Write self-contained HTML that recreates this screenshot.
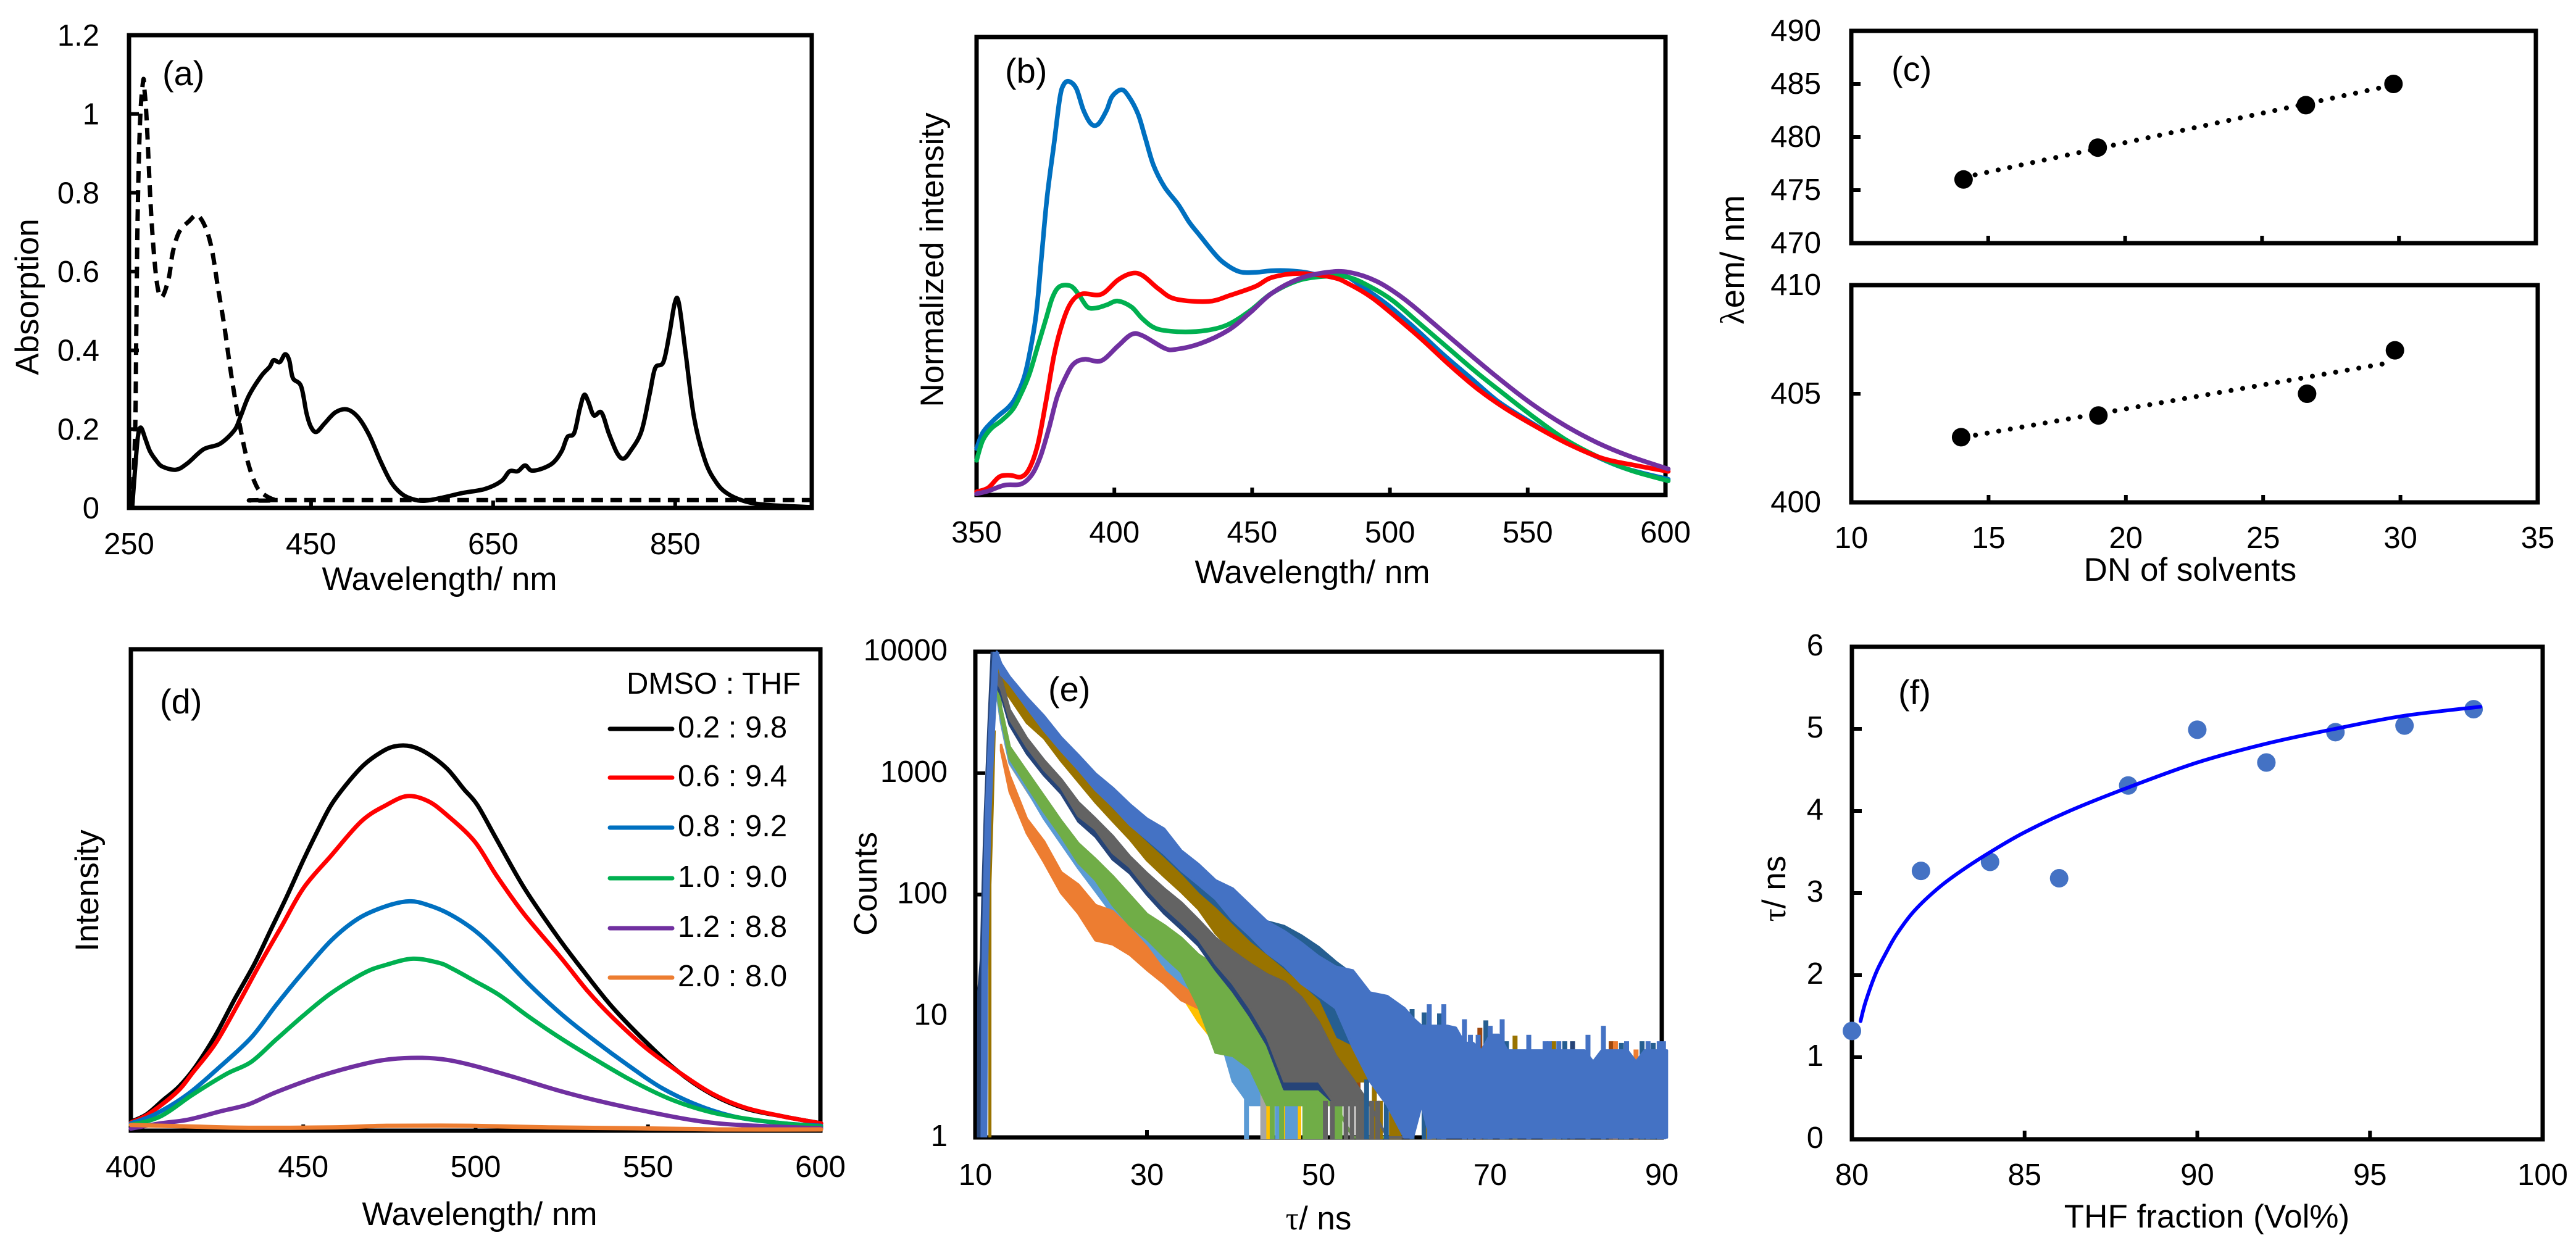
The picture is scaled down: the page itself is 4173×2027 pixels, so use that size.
<!DOCTYPE html>
<html lang="en">
<head>
<meta charset="utf-8">
<title>Spectra and lifetime panels</title>
<style>
  html, body { margin: 0; padding: 0; background: #fff; }
  svg { display: block; }
  text { font-family: "Liberation Sans", sans-serif; fill: #000; }
  .tick { font-size: 49px; }
  .title { font-size: 53px; }
  .panel-tag { font-size: 56px; }
  .sym { font-family: "Liberation Serif", serif; }
</style>
</head>
<body>
<svg id="figure" xmlns="http://www.w3.org/2000/svg" width="4173" height="2027" viewBox="0 0 4173 2027">
  <rect x="0" y="0" width="4173" height="2027" fill="#fff"/>
  <g id="panel-a"></g>
  <g id="panel-b"></g>
  <g id="panel-c-top"></g>
  <g id="panel-c-bottom"></g>
  <g id="panel-d"></g>
  <g id="panel-e"></g>
  <g id="panel-f"></g>

  <g>
    <text class="title" x="712" y="956" text-anchor="middle">Wavelength/ nm</text>
    <text class="title" transform="translate(62 481) rotate(-90)" text-anchor="middle">Absorption</text>
    <text class="title" x="2126" y="945" text-anchor="middle">Wavelength/ nm</text>
    <text class="title" transform="translate(1528 421) rotate(-90)" text-anchor="middle">Normalized intensity</text>
    <text class="title" x="3548" y="941" text-anchor="middle">DN of solvents</text>
    <text class="title" style="font-size:55px" transform="translate(2825 421) rotate(-90)" text-anchor="middle"><tspan class="sym">λ</tspan>em/ nm</text>
    <text class="title" x="777" y="1985" text-anchor="middle">Wavelength/ nm</text>
    <text class="title" transform="translate(159 1443) rotate(-90)" text-anchor="middle">Intensity</text>
    <text class="title" x="2136" y="1992" text-anchor="middle"><tspan class="sym">τ</tspan>/ ns</text>
    <text class="title" transform="translate(1420 1432) rotate(-90)" text-anchor="middle">Counts</text>
    <text class="title" x="3575" y="1989" text-anchor="middle">THF fraction (Vol%)</text>
    <text class="title" transform="translate(2892 1440) rotate(-90)" text-anchor="middle"><tspan class="sym">τ</tspan>/ ns</text>
  </g>

  <g>
    <text class="panel-tag" x="263" y="138">(a)</text>
    <text class="panel-tag" x="1628" y="134">(b)</text>
    <text class="panel-tag" x="3064" y="131">(c)</text>
    <text class="panel-tag" x="259" y="1156">(d)</text>
    <text class="panel-tag" x="1698" y="1136">(e)</text>
    <text class="panel-tag" x="3075" y="1141">(f)</text>
  </g>
  <text class="tick" x="1015" y="1124">DMSO : THF</text>
  <g id="legend"></g>
</svg>

<script>
/* ---------- panel (a) ---------- */
const aXTicks = [250, 450, 650, 850];
const aYTicks = [0, 0.2, 0.4, 0.6, 0.8, 1, 1.2];
const aYLabels = ['0', '0.2', '0.4', '0.6', '0.8', '1', '1.2'];
const aSolidWl = [253.6,256.7,259.7,263,268,273,280,286.6,301.5,314,332,350,366,373,381.7,395,404.4,408.8,415.6,421.4,426,430,439,445,450,456,465,477,489.6,501.7,513.8,526,538,550,562,574,592,616.6,640.8,659,668,677,685,692,704,716,725.5,731.5,739,745,750,754.5,760.6,769,777,786,793,801,813,822,828,837,843.5,849.5,854,861.6,870.7,882.8,895,907,925,949,999.5];
const aSolidAbs = [.005,.10,.18,.204,.175,.144,.12,.105,.097,.113,.149,.163,.198,.235,.285,.334,.358,.375,.37,.39,.375,.33,.309,.24,.205,.193,.215,.243,.25,.23,.185,.12,.065,.035,.022,.018,.025,.038,.048,.068,.093,.093,.108,.095,.1,.115,.145,.18,.19,.25,.287,.27,.235,.242,.19,.14,.125,.145,.195,.29,.355,.37,.44,.52,.52,.39,.23,.12,.065,.037,.018,.008,.002];
const aDashWl = [253.6,256.8,258,259.5,262.2,265.6,267,269.4,274.4,280,285.7,293.6,298,305,316,325,334,341,347.8,354.6,361,367,372.7,379.5,387.4,395,411,429,999.5];
const aDashAbs = [0,.198,.45,.743,.985,1.085,1.06,.985,.743,.583,.535,.583,.648,.70,.728,.743,.712,.656,.558,.463,.358,.27,.198,.125,.069,.04,.02,.02,.02];

/* ---------- panel (b) ---------- */
const bXTicks = [350, 400, 450, 500, 550, 600];
const bBlueWl = [350,352.2,355.2,358.2,361.6,364.2,367.2,369.2,371.6,373.6,375.6,378.2,380.2,381.6,383.6,386.2,388.8,391.6,394.2,397.2,399.2,402.6,405.2,408.6,411.2,414.2,418.2,423.2,427.2,431.2,435.2,439.2,445.2,451.2,457.2,463.2,469.2,475.2,483.2,489.2,499.2,509.2,519.2,529.2,539.2,549.2,561.2,573.2,585.2,601];
const bBlueInt = [118,158,183,203,223,248,298,358,458,608,758,898,1008,1043,1051,1033,978,943,943,978,1013,1030,1013,968,908,838,783,738,693,658,623,593,568,566,570,570,566,558,558,533,483,423,358,298,238,193,143,103,68,40];
const bGreenWl = [350,352.2,355.2,359.2,363.2,366.2,369.2,372.2,375.2,377.6,380.2,384.2,387.2,390.2,393.2,397.2,401.2,406.2,410.2,415.2,423.2,433.2,441.2,449.2,457.2,467.2,477.2,485.2,493.2,501.2,511.2,521.2,531.2,540.2,551.2,563.2,575.2,587.2,601];
const bGreenInt = [88,138,168,190,218,258,308,378,448,503,530,531,508,478,475,483,493,478,448,423,415,418,433,468,513,546,556,553,528,493,433,373,313,263,203,143,98,63,36];
const bRedWl = [350,354.2,358.2,362.2,366.2,369.2,372.2,375.2,378.2,381.2,384.2,388.2,395.2,401.2,406.2,410.2,416.2,422.2,434.2,442.2,451.2,457.2,467.2,479.2,485.2,493.2,501.2,511.2,521.2,531.2,541.2,553.2,565.2,577.2,589.2,601];
const bRedInt = [8,18,46,50,46,68,128,238,358,438,488,511,510,546,563,558,523,498,492,508,530,553,563,553,536,503,458,398,333,273,223,173,128,93,75,60];
const bPurpleWl = [350,354.2,360.2,366.2,370.2,373.2,376.2,379.2,382.2,385.2,389.2,395.2,401.2,406.2,410.2,418.2,422.2,431.2,441.2,449.2,457.2,467.2,477.2,485.2,495.2,505.2,517.2,527.2,539.2,551.2,563.2,575.2,587.2,601];
const bPurpleInt = [3,10,25,28,53,98,168,248,298,333,345,341,378,408,405,373,370,385,418,463,513,550,566,566,543,498,428,368,298,233,178,133,98,66];

/* ---------- panel (c) ---------- */
const cXTicks = [10, 15, 20, 25, 30, 35];
const cTopYTicks = [470, 475, 480, 485, 490];
const cBottomYTicks = [400, 405, 410];
const cTopDn = [14.1, 19, 26.6, 29.8];
const cTopEm = [476, 479, 483, 485];
const cTopFitDn = [14.1, 29.8];
const cTopFitEm = [476.2, 484.9];
const cBottomDn = [14, 19, 26.6, 29.8];
const cBottomEm = [403, 404, 405, 407];
const cBottomFitDn = [14.1, 29.7];
const cBottomFitEm = [403, 406.45];

/* ---------- panel (d) ---------- */
const dXTicks = [400, 450, 500, 550, 600];
const dBlackWl = [400,404.5,409.3,414.1,418.9,424.5,430.1,435.7,440.5,445.3,450.1,454.1,458.1,462.9,467.7,472.5,476.5,481.3,486.1,491.7,496.5,500.5,506.1,514.1,523.7,531.7,539.7,549.3,558.9,568.5,578.1,589.3,600.2];
const dBlackInt = [22,40,75,110,160,235,325,410,495,580,670,740,805,860,905,935,950,950,932,895,845,805,720,600,480,390,305,220,145,90,55,35,18];
const dRedWl = [400,405.3,413.3,418.1,424.5,430.9,437.3,443.7,450.1,458.1,466.9,474.1,480.2,486.1,491.7,499.7,506.1,514.1,524.5,532.5,539.7,549.3,558.9,568.5,578.1,589.3,600.2];
const dRedInt = [20,42,95,145,215,310,410,505,600,680,765,805,827,815,780,715,630,535,430,345,280,205,145,92,57,35,18];
const dBlueWl = [400,406.9,416.5,426.1,434.9,442.1,449.3,458.1,466.1,474.1,480.8,486.1,492.5,499.7,506.1,515.7,525.3,534.9,544.5,554.1,565.3,576.5,589.3,600.2];
const dBlueInt = [18,40,90,160,230,310,385,470,525,555,567,558,535,495,445,360,285,220,160,105,60,32,18,12];
const dGreenWl = [400,408.5,418.1,427.7,434.9,442.1,450.1,458.1,467.7,474.1,481.8,489.3,493.3,499.7,506.9,515.7,525.3,534.9,546.1,557.3,568.5,579.7,589.3,600.2];
const dGreenInt = [14,35,90,140,170,225,285,340,390,410,425,415,400,370,335,280,225,175,120,75,45,28,18,10];
const dPurpleWl = [400,408.5,416.5,426.1,434.1,442.1,454.9,467.7,475.7,484.5,491.7,499.7,510.9,523.7,534.9,549.3,563.7,576.5,600.2];
const dPurpleInt = [5,18,27,48,65,95,135,165,177,180,175,160,133,100,75,48,25,14,6];
const dOrangeWl = [400,418.1,434.1,458.1,474.1,498.1,522.1,546.1,570.1,600.2];
const dOrangeInt = [14,10,7,8,12,12,8,6,3,3];
const legendLabels = ['0.2 : 9.8', '0.6 : 9.4', '0.8 : 9.2', '1.0 : 9.0', '1.2 : 8.8', '2.0 : 8.0'];

/* ---------- panel (e): upper and lower edges of each noisy trace ---------- */
const eXTicks = [10, 30, 50, 70, 90];
const eYTicks = [1, 10, 100, 1000, 10000];
const eTimeGrid = [12.5,13,14,16,18,20,22,24,26,28,30,32,34,36,38,40,42,44,46,48,50,52,54,56,58,60];
const eOrangeTime = [13,14,16,18,20,22,24,26,28,30,32,34,36];
const eOrangeUpper = [1710,955,421,275,153,121,82,73,53,37,23.7,17.8,14];
const eOrangeLower = [1530,702,320,185,103,70,42,39,32,24,18.5,13.5,11.6];
const eSilverLower = [4500,2600,1200,720,440,280,170,112,72,48,34,26,17,12,9,3.5,2.9,1.85,1.85,1.85,1.85,1.85,1,1,1,1];
const eYellowLower = [4600,2640,1220,735,430,270,170,110,70,45,33,24,15,9,6,4.7,1.9,1.85,1.85,1.85,1.85,1.85,1,1,1,1];
const eSkyLower = [4600,2640,1220,735,422,264,165,107,69,46,34,26,15,11.6,9,2.9,1.85,1.85,1.85,1.85,1.85,1.85,1,1,1,1];
const eGreenUpper = [7260,3460,1650,1030,647,405,264,196,142,99,69,56,44,32,26,18.5,15,8,5.5,4.7,3.7,1.85,1,1,1,1];
const eGreenLower = [4920,2950,1320,794,480,304,183,132,82,56,43,31,23,12,5,4.7,3.7,1.85,1.85,1.85,1.85,1.85,1,1,1,1];
const eSteelUpper = [9600,7500,5800,3900,2700,1800,1300,900,700,510,390,320,210,165,120,100,75,60,55,46,37,28,22,15,14,11];
const eSteelLower = [8800,5980,5100,3330,2180,1480,1030,700,490,345,258,196,140,99,76,52,36,27,21,16.5,8.9,5.7,3.7,3,1.85,1];
const eBrownUpper = [8830,7260,5270,3470,2400,1560,1070,700,495,359,264,196,143,101,76,55,40,31,23.7,17.8,13.2,6.5,5.5,3,1.85,1.85];
const eBrownLower = [7550,5380,4200,2600,1940,1260,851,575,404,286,192,141,105,76,48,34,23,19.5,14.2,9.6,6.7,4.7,2.9,2.9,1.85,1.85];
const eDarkUpper = [6720,5980,3330,1940,1280,890,575,422,304,206,150,112,86,62,44,34,27,22,19,14.2,8.9,4.7,3,1.85,1,1];
const eDarkLower = [5700,4920,2780,1650,1070,760,445,345,221,169,112,79,59,43,27,18.5,11.6,6.7,2.9,2.9,2.9,1.85,1.85,1.85,1,1];
const eNavyLower = [5200,4400,2500,1450,960,680,400,300,195,150,100,70,52,38,24,16,10,5.8,2.5,2.5,2.5,1.85,1.85,1.85,1,1];
const eBlueUpper = [10000,8000,6210,4200,2960,1970,1410,993,757,555,422,348,230,178,131,112,82,60,50,40,31,25.5,23.7,15.6,14.6,11.6];
const eBlueLower = [9000,6460,5420,3470,2250,1530,1070,728,533,376,286,217,158,121,92,62,46,33,26,18.5,14.7,11.6,5.5,2.9,1.85,1];
const eTailTime = [61,62,63,64,65,66,67,68,69,70,71,72,73,74,75,76,77,78,79,80,81,82,83,84,85,86,87,88,89,90.6];
const eBlueTailUpper = [9.6,8.3,8.3,8.3,8.3,8,6,6,5.2,7,7,5.2,5.2,5.2,5.2,5.2,5.2,5.2,5.2,5.2,5.2,4.2,5.2,5.2,5.2,5.2,4.2,5.2,5.2,5.2];
const eBlueTailLower = [1,1.85,1,1,1,1,1,1,1,1,1,1,1,1,1,1,1,1,1,1,1,1,1,1,1,1,1,1,1,1];
const eBlueSpikeTime = [62.9,64.6,67,67.7,68.6,70,71.4,74.5,76.4,76.9,78,81.4,83.2,85.9,88.4,89.7,90.2];
const eBlueSpikeCount = [12.5,12.5,9.4,7,7,8.3,9.4,7,6.2,6.2,6.2,7,8.3,6.2,6.2,6.2,6.2];
const eSteelSpikeTime = [60.9,62.3,64.1,69.5,71.9,78.7,85.3,87.7,89];
const eSteelSpikeCount = [11.4,10.7,10.5,9.2,6.2,6.2,6,6.2,6];
const eRustSpikeTime = [54.6,68.8,84.1];
const eRustSpikeCount = [19.5,8,6.2];
const eGoldSpikeTime = [72.9,77.4];
const eGoldSpikeCount = [6.9,6.2];
const eNavySpikeTime = [79.6];
const eNavySpikeCount = [6.2];
const eCoralSpikeTime = [84.6,87];
const eCoralSpikeCount = [6.2,5.3];
const eSkyStripTime = [41.6,45.2,46.4,46.9,47.3];
const eSkyStripCount = [3.6,2,2,2,2];
const eSilverStripTime = [43.5,43.9];
const eSilverStripCount = [3,3];
const eYellowStripTime = [44.2,46.1,47.7];
const eYellowStripCount = [2,2,2];
const eGreenStripTime = [44.6,45.7,48.4,48.9,49.4,49.9,50.3,52.1,52.5];
const eGreenStripCount = [2,2,2,2,2,2,2,2,2];
const eDarkStripTime = [50.8,51.6,53.2,53.9,54.6,55.1,56.2,56.9];
const eDarkStripCount = [2,2,2,2,2,2,2,2];
const eBrownStripTime = [56.5,57.2,58.5,59,59.4,62.8,63.4];
const eBrownStripCount = [3,2,2,2,2,2,2];
const eSteelStripTime = [55.6,57.9];
const eSteelStripCount = [3,2];
const eRiseNavyTime = [10.5,10.55,10.85,11.05,11.3,11.7,12.1];
const eRiseNavyCount = [1,16,30,121,470,2250,10000];
const eRiseGoldTime = [11.7,11.7,11.95,12.2];
const eRiseGoldCount = [1,121,470,2250];
const eRiseBlueTime = [11,11.1,11.3,11.5,11.9,12.4];
const eRiseBlueCount = [1,24,121,470,2250,10000];

/* ---------- panel (f) ---------- */
const fXTicks = [80, 85, 90, 95, 100];
const fYTicks = [0, 1, 2, 3, 4, 5, 6];
const fThf = [80, 82, 84, 86, 88, 90, 92, 94, 96, 98];
const fTau = [1.32, 3.27, 3.38, 3.18, 4.31, 4.99, 4.59, 4.96, 5.04, 5.24];
const fFitThf = [80.25,80.4,80.7,81,81.3,81.8,82.5,83.2,84.05,85,86.3,87.9,90,92,94.1,96,98.2];
const fFitTau = [1.44,1.68,2.03,2.28,2.5,2.78,3.06,3.28,3.51,3.74,4.0,4.27,4.59,4.82,5.01,5.16,5.27];

/* ---------- helpers ---------- */
const SVG_NS = 'http://www.w3.org/2000/svg';
function linear(d0, d1, r0, r1) { return v => r0 + (v - d0) * (r1 - r0) / (d1 - d0); }
function logScale(d0, d1, r0, r1) {
  return v => r0 + (Math.log10(v) - Math.log10(d0)) * (r1 - r0) / (Math.log10(d1) - Math.log10(d0));
}
function add(parent, tag, name, props) {
  const el = document.createElementNS(SVG_NS, tag);
  
  
  for (const k in props) el.setAttribute(k, props[k]);
  parent.appendChild(el);
  return el;
}
function smoothPath(pts) {
  let d = 'M' + pts[0][0].toFixed(1) + ' ' + pts[0][1].toFixed(1);
  for (let i = 0; i < pts.length - 1; i++) {
    const p0 = pts[Math.max(i - 1, 0)], p1 = pts[i], p2 = pts[i + 1], p3 = pts[Math.min(i + 2, pts.length - 1)];
    const c1x = p1[0] + (p2[0] - p0[0]) / 6, c1y = p1[1] + (p2[1] - p0[1]) / 6;
    const c2x = p2[0] - (p3[0] - p1[0]) / 6, c2y = p2[1] - (p3[1] - p1[1]) / 6;
    d += 'C' + c1x.toFixed(1) + ' ' + c1y.toFixed(1) + ' ' + c2x.toFixed(1) + ' ' + c2y.toFixed(1) + ' ' + p2[0].toFixed(1) + ' ' + p2[1].toFixed(1);
  }
  return d;
}
function drawCurve(g, name, xs, ys, sx, sy, color, width, dash) {
  const pts = xs.map((x, i) => [sx(x), sy(ys[i])]);
  const props = { d: smoothPath(pts), fill: 'none', stroke: color, 'stroke-width': width, 'stroke-linejoin': 'round', 'stroke-linecap': dash ? 'butt' : 'round' };
  if (dash) props['stroke-dasharray'] = dash;
  return add(g, 'path', name, props);
}
function drawFrame(g, name, box) {
  return add(g, 'rect', name, { x: box.x0, y: box.y1, width: box.x1 - box.x0, height: box.y0 - box.y1, fill: 'none', stroke: '#000', 'stroke-width': 7 });
}
function drawXAxis(g, prefix, ticks, labels, sx, box, baseline, tickLen) {
  ticks.forEach((t, i) => {
    const x = sx(t);
    if (t !== ticks[0] && i !== ticks.length - 1) {
      add(g, 'line', prefix + '-x-tick', { x1: x, x2: x, y1: box.y0, y2: box.y0 - tickLen, stroke: '#000', 'stroke-width': 6 });
    }
    if (labels) {
      const lab = add(g, 'text', prefix + '-x-tick-label', { x: x, y: baseline, 'text-anchor': 'middle', class: 'tick' });
      lab.textContent = labels[i];
    }
  });
}
function drawYAxis(g, prefix, ticks, labels, sy, box, rightX, dy, tickLen) {
  ticks.forEach((t, i) => {
    const y = sy(t);
    if (i !== 0 && i !== ticks.length - 1) {
      add(g, 'line', prefix + '-y-tick', { x1: box.x0, x2: box.x0 + tickLen, y1: y, y2: y, stroke: '#000', 'stroke-width': 6 });
    }
    if (labels) {
      const lab = add(g, 'text', prefix + '-y-tick-label', { x: rightX, y: y + dy, 'text-anchor': 'end', class: 'tick' });
      lab.textContent = labels[i];
    }
  });
}
function drawDots(g, name, xs, ys, sx, sy, color) {
  xs.forEach((x, i) => {
    add(g, 'circle', name, { cx: sx(x), cy: sy(ys[i]), r: 15, fill: color });
  });
}
function drawBand(g, name, times, upper, lower, sx, sy, color) {
  const n = Math.min(times.length, upper.length, lower.length);
  let pts = [];
  for (let i = 0; i < n; i++) pts.push(sx(times[i]).toFixed(1) + ',' + sy(upper[i]).toFixed(1));
  for (let i = n - 1; i >= 0; i--) pts.push(sx(times[i]).toFixed(1) + ',' + sy(lower[i]).toFixed(1));
  add(g, 'polygon', name, { points: pts.join(' '), fill: color, stroke: color, 'stroke-width': 4, 'stroke-linejoin': 'round' });
}
function drawSpikes(g, name, times, counts, sx, sy, color) {
  times.forEach((t, i) => {
    add(g, 'line', name, { x1: sx(t), x2: sx(t), y1: sy(1) + 3, y2: sy(counts[i]), stroke: color, 'stroke-width': 8 });
  });
}
function drawRise(g, name, times, counts, sx, sy, color, width) {
  const pts = times.map((t, i) => sx(t).toFixed(1) + ',' + sy(counts[i]).toFixed(1)).join(' ');
  add(g, 'polyline', name, { points: pts, fill: 'none', stroke: color, 'stroke-width': width, 'stroke-linejoin': 'round' });
}

/* ---------- draw panel (a) ---------- */
(function () {
  const g = document.getElementById('panel-a');
  const box = { x0: 209, x1: 1315, y0: 823, y1: 57 };
  const sx = linear(250, 1000, box.x0, box.x1), sy = linear(0, 1.2, box.y0, box.y1);
  drawFrame(g, 'panel-a-frame', box);
  drawXAxis(g, 'panel-a', aXTicks.concat([1000]), aXTicks.map(String).concat(['']), sx, box, 898, 12);
  drawYAxis(g, 'panel-a', aYTicks, aYLabels, sy, box, 161, 17, 16);
  drawCurve(g, 'solid-absorption-line', aSolidWl, aSolidAbs, sx, sy, '#000', 7);
  drawCurve(g, 'dashed-absorption-line', aDashWl, aDashAbs, sx, sy, '#000', 7, '19 12');
})();

/* ---------- draw panel (b) ---------- */
(function () {
  const g = document.getElementById('panel-b');
  const box = { x0: 1582, x1: 2698, y0: 802, y1: 60 };
  const sx = linear(350, 600, box.x0, box.x1), sy = linear(0, 1164, box.y0, box.y1);
  drawFrame(g, 'panel-b-frame', box);
  drawXAxis(g, 'panel-b', bXTicks, bXTicks.map(String), sx, box, 879, 12);
  drawCurve(g, 'blue-spectrum', bBlueWl, bBlueInt, sx, sy, '#0070C0', 7.5);
  drawCurve(g, 'green-spectrum', bGreenWl, bGreenInt, sx, sy, '#00B050', 7.5);
  drawCurve(g, 'red-spectrum', bRedWl, bRedInt, sx, sy, '#FF0000', 7.5);
  drawCurve(g, 'purple-spectrum', bPurpleWl, bPurpleInt, sx, sy, '#7030A0', 7.5);
})();

/* ---------- draw panel (c) ---------- */
(function () {
  const gt = document.getElementById('panel-c-top');
  const boxT = { x0: 2999, x1: 4108, y0: 394, y1: 50 };
  const sxT = linear(10, 35, boxT.x0, boxT.x1), syT = linear(470, 490, boxT.y0, boxT.y1);
  drawFrame(gt, 'panel-c-upper-frame', boxT);
  drawXAxis(gt, 'panel-c-upper', cXTicks, null, sxT, boxT, 0, 12);
  drawYAxis(gt, 'panel-c-upper', cTopYTicks, cTopYTicks.map(String), syT, boxT, 2950, 16, 15);
  drawCurve(gt, 'upper-trend-line', cTopFitDn, cTopFitEm, sxT, syT, '#000', 8, '0.1 19').setAttribute('stroke-linecap', 'round');
  drawDots(gt, 'upper-data-point', cTopDn, cTopEm, sxT, syT, '#000');

  const gb = document.getElementById('panel-c-bottom');
  const boxB = { x0: 2999, x1: 4111, y0: 814, y1: 462 };
  const sxB = linear(10, 35, boxB.x0, boxB.x1), syB = linear(400, 410, boxB.y0, boxB.y1);
  drawFrame(gb, 'panel-c-lower-frame', boxB);
  drawXAxis(gb, 'panel-c-lower', cXTicks, cXTicks.map(String), sxB, boxB, 888, 12);
  drawYAxis(gb, 'panel-c-lower', cBottomYTicks, cBottomYTicks.map(String), syB, boxB, 2950, 16, 15);
  drawCurve(gb, 'lower-trend-line', cBottomFitDn, cBottomFitEm, sxB, syB, '#000', 8, '0.1 19').setAttribute('stroke-linecap', 'round');
  drawDots(gb, 'lower-data-point', cBottomDn, cBottomEm, sxB, syB, '#000');
})();

/* ---------- draw panel (d) ---------- */
(function () {
  const g = document.getElementById('panel-d');
  const box = { x0: 212, x1: 1329, y0: 1832, y1: 1052 };
  const sx = linear(400, 600, box.x0, box.x1), sy = linear(0, 1190, box.y0, box.y1);
  drawFrame(g, 'panel-d-frame', box);
  drawXAxis(g, 'panel-d', dXTicks, dXTicks.map(String), sx, box, 1907, 10);
  drawCurve(g, 'black-curve', dBlackWl, dBlackInt, sx, sy, '#000000', 7);
  drawCurve(g, 'red-curve', dRedWl, dRedInt, sx, sy, '#FF0000', 7);
  drawCurve(g, 'blue-curve', dBlueWl, dBlueInt, sx, sy, '#0070C0', 7);
  drawCurve(g, 'green-curve', dGreenWl, dGreenInt, sx, sy, '#00B050', 7);
  drawCurve(g, 'purple-curve', dPurpleWl, dPurpleInt, sx, sy, '#7030A0', 7);
  drawCurve(g, 'orange-curve', dOrangeWl, dOrangeInt, sx, sy, '#ED7D31', 7);

  const lg = document.getElementById('legend');
  const swatchColors = ['#000000', '#FF0000', '#0070C0', '#00B050', '#7030A0', '#ED7D31'];
  const rowY = [1181, 1260, 1341, 1423, 1504, 1584];
  legendLabels.forEach((label, i) => {
    add(lg, 'line', 'legend-swatch', { x1: 988, x2: 1089, y1: rowY[i], y2: rowY[i], stroke: swatchColors[i], 'stroke-width': 7, 'stroke-linecap': 'round' });
    const t = add(lg, 'text', 'legend-entry', { x: 1098, y: rowY[i] + 14, class: 'tick' });
    t.textContent = label;
  });
})();

/* ---------- draw panel (e) ---------- */
(function () {
  const g = document.getElementById('panel-e');
  const box = { x0: 1580, x1: 2692, y0: 1843, y1: 1056 };
  const sx = linear(10, 90, box.x0, box.x1), sy = logScale(1, 10000, box.y0, box.y1);
  drawFrame(g, 'panel-e-frame', box);
  drawXAxis(g, 'panel-e', eXTicks, eXTicks.map(String), sx, box, 1920, 12);
  drawYAxis(g, 'panel-e', eYTicks, eYTicks.map(String), sy, box, 1535, 14, 16);

  drawBand(g, 'decay-silver', eTimeGrid, eGreenUpper, eSilverLower, sx, sy, '#A5A5A5');
  drawBand(g, 'decay-yellow', eTimeGrid, eGreenUpper, eYellowLower, sx, sy, '#FFC000');
  drawBand(g, 'decay-sky-blue', eTimeGrid, eGreenUpper, eSkyLower, sx, sy, '#5B9BD5');
  drawSpikes(g, 'decay-silver-strip', eSilverStripTime, eSilverStripCount, sx, sy, '#A5A5A5');
  drawSpikes(g, 'decay-yellow-strip', eYellowStripTime, eYellowStripCount, sx, sy, '#FFC000');
  drawSpikes(g, 'decay-sky-blue-strip', eSkyStripTime, eSkyStripCount, sx, sy, '#5B9BD5');
  drawBand(g, 'decay-orange', eOrangeTime, eOrangeUpper, eOrangeLower, sx, sy, '#ED7D31');
  drawBand(g, 'decay-green', eTimeGrid, eGreenUpper, eGreenLower, sx, sy, '#70AD47');
  drawSpikes(g, 'decay-green-strip', eGreenStripTime, eGreenStripCount, sx, sy, '#70AD47');

  drawSpikes(g, 'decay-rust-spike', eRustSpikeTime, eRustSpikeCount, sx, sy, '#9E480E');
  drawSpikes(g, 'decay-gold-spike', eGoldSpikeTime, eGoldSpikeCount, sx, sy, '#997300');
  drawSpikes(g, 'decay-navy-spike', eNavySpikeTime, eNavySpikeCount, sx, sy, '#264478');
  drawSpikes(g, 'decay-coral-spike', eCoralSpikeTime, eCoralSpikeCount, sx, sy, '#ED7D31');
  drawSpikes(g, 'decay-steel-spike', eSteelSpikeTime, eSteelSpikeCount, sx, sy, '#255E91');

  drawBand(g, 'decay-steel-blue', eTimeGrid, eSteelUpper, eSteelLower, sx, sy, '#255E91');
  drawBand(g, 'decay-brown', eTimeGrid, eBrownUpper, eBrownLower, sx, sy, '#997300');
  drawSpikes(g, 'decay-brown-strip', eBrownStripTime, eBrownStripCount, sx, sy, '#997300');
  drawBand(g, 'decay-navy', eTimeGrid, eDarkUpper, eNavyLower, sx, sy, '#264478');
  drawBand(g, 'decay-dark-gray', eTimeGrid, eDarkUpper, eDarkLower, sx, sy, '#636363');
  drawSpikes(g, 'decay-dark-gray-strip', eDarkStripTime, eDarkStripCount, sx, sy, '#636363');
  drawSpikes(g, 'decay-steel-strip', eSteelStripTime, eSteelStripCount, sx, sy, '#255E91');

  drawSpikes(g, 'decay-blue-spike', eBlueSpikeTime, eBlueSpikeCount, sx, sy, '#4472C4');
  drawBand(g, 'decay-blue', eTimeGrid.concat(eTailTime), eBlueUpper.concat(eBlueTailUpper), eBlueLower.concat(eBlueTailLower), sx, sy, '#4472C4');

  drawRise(g, 'decay-rise-navy', eRiseNavyTime, eRiseNavyCount, sx, sy, '#264478', 9);
  drawRise(g, 'decay-rise-gold', eRiseGoldTime, eRiseGoldCount, sx, sy, '#997300', 5);
  drawRise(g, 'decay-rise-blue', eRiseBlueTime, eRiseBlueCount, sx, sy, '#4472C4', 11);
})();

/* ---------- draw panel (f) ---------- */
(function () {
  const g = document.getElementById('panel-f');
  const box = { x0: 3000, x1: 4119, y0: 1846, y1: 1048 };
  const sx = linear(80, 100, box.x0, box.x1), sy = linear(0, 6, box.y0, box.y1);
  drawFrame(g, 'panel-f-frame', box);
  drawXAxis(g, 'panel-f', fXTicks, fXTicks.map(String), sx, box, 1920, 14);
  drawYAxis(g, 'panel-f', fYTicks, fYTicks.map(String), sy, box, 2954, 14, 16);
  drawDots(g, 'lifetime-point', fThf, fTau, sx, sy, '#4472C4');
  drawCurve(g, 'lifetime-fit-curve', fFitThf, fFitTau, sx, sy, '#0000FF', 6);
})();
</script>
</body>
</html>
